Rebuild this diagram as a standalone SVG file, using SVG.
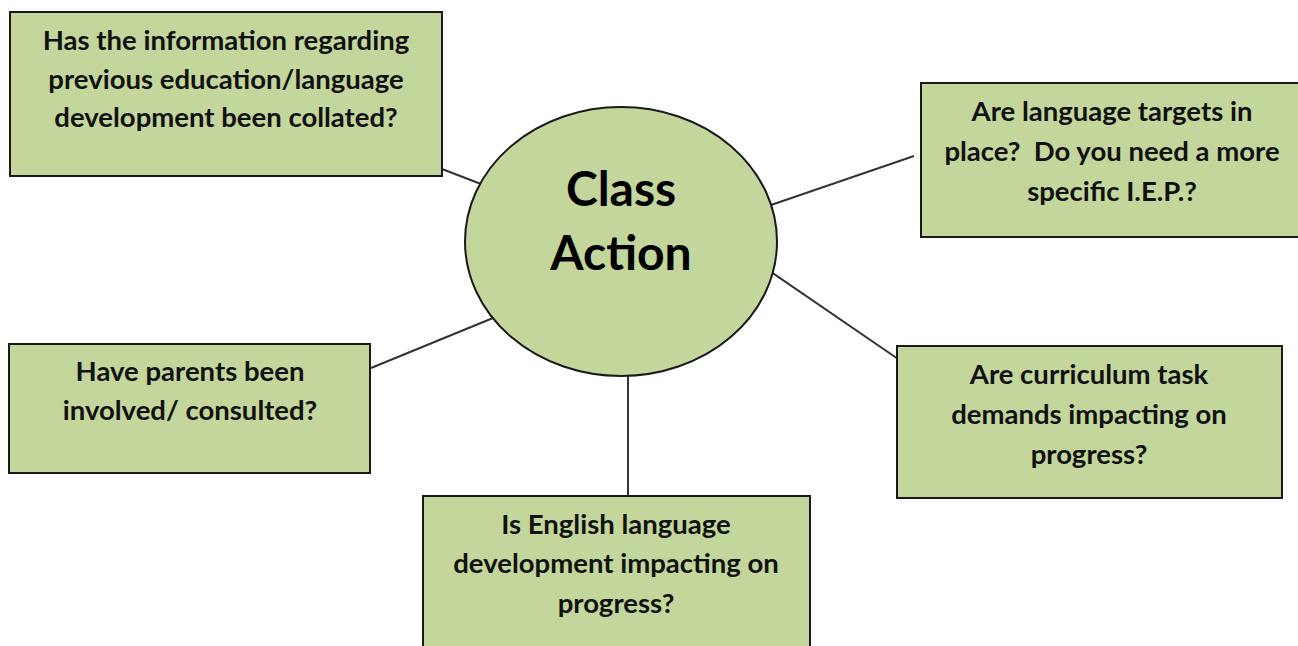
<svg xmlns="http://www.w3.org/2000/svg" width="1298" height="646" viewBox="0 0 1298 646">
<style>
.box{fill:#c3d69b;stroke:#1a1a1a;stroke-width:2}
.t{font-family:Lato,"Liberation Sans",sans-serif;font-weight:700;font-size:27.5px;fill:#111;text-anchor:middle}
.big{font-family:Lato,"Liberation Sans",sans-serif;font-weight:700;font-size:48px;fill:#000;text-anchor:middle}
.c{stroke:#333;stroke-width:2;fill:none}
</style>
<rect width="1298" height="646" fill="#fff"/>
<g id="connectors">
<line class="c" x1="442" y1="169" x2="481" y2="184"/>
<line class="c" x1="771" y1="205" x2="914" y2="156"/>
<line class="c" x1="758" y1="263" x2="901" y2="361"/>
<line class="c" x1="371" y1="368" x2="493" y2="318"/>
<line class="c" x1="628" y1="376" x2="628" y2="496"/>
</g>
<g id="center">
<ellipse class="box" cx="621" cy="241.5" rx="156" ry="134.5"/>
<text class="big" x="621" y="206">Class</text>
<text class="big" x="621" y="270">Action</text>
</g>
<g id="n1">
<rect class="box" x="10" y="12" width="432" height="164"/>
<text class="t" x="226" y="50">Has the information regarding</text>
<text class="t" x="226" y="89">previous education/language</text>
<text class="t" x="226" y="127">development been collated?</text>
</g>
<g id="n2">
<rect class="box" x="921" y="83" width="380" height="154"/>
<text class="t" x="1112" y="121">Are language targets in</text>
<text class="t" x="1112" y="161" xml:space="preserve">place?  Do you need a more</text>
<text class="t" x="1112" y="201">specific I.E.P.?</text>
</g>
<g id="n3">
<rect class="box" x="897" y="346" width="385" height="152"/>
<text class="t" x="1089" y="384">Are curriculum task</text>
<text class="t" x="1089" y="424">demands impacting on</text>
<text class="t" x="1089" y="464">progress?</text>
</g>
<g id="n4">
<rect class="box" x="9" y="344" width="361" height="129"/>
<text class="t" x="190" y="381">Have parents been</text>
<text class="t" x="190" y="420">involved/ consulted?</text>
</g>
<g id="n5">
<rect class="box" x="423" y="496" width="387" height="160"/>
<text class="t" x="616" y="534">Is English language</text>
<text class="t" x="616" y="573">development impacting on</text>
<text class="t" x="616" y="613">progress?</text>
</g>
</svg>
